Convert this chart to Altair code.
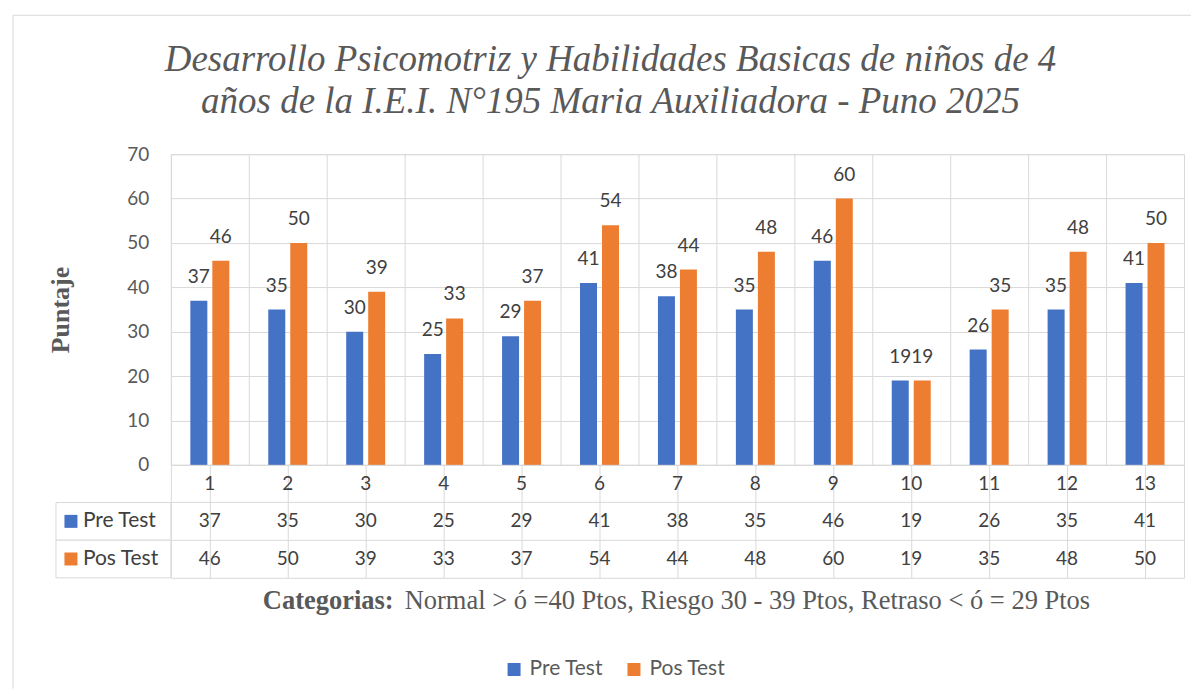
import altair as alt
import pandas as pd

# ---- data ----
cats = list(range(1, 14))
pre = [37, 35, 30, 25, 29, 41, 38, 35, 46, 19, 26, 35, 41]
pos = [46, 50, 39, 33, 37, 54, 44, 48, 60, 19, 35, 48, 50]
series = ["Pre Test", "Pos Test"]
colors = ["#4472C4", "#ED7D31"]
y_ticks = [0, 10, 20, 30, 40, 50, 60, 70]
title_lines = ["Desarrollo Psicomotriz y Habilidades Basicas de niños de 4",
               "años de la I.E.I. N°195 Maria Auxiliadora - Puno 2025"]
y_title = "Puntaje"
cat_bold = "Categorias:"
cat_rest = "Normal > ó =40 Ptos, Riesgo 30 - 39 Ptos, Retraso < ó = 29 Ptos"

df = pd.DataFrame({
    "cat": cats * 2,
    "serie": ["Pre Test"] * len(cats) + ["Pos Test"] * len(cats),
    "valor": pre + pos,
})

rows = []
for c, a, b in zip(cats, pre, pos):
    rows.append({"cat": c, "fila": "c", "txt": str(c)})
    rows.append({"cat": c, "fila": "Pre Test", "txt": str(a)})
    rows.append({"cat": c, "fila": "Pos Test", "txt": str(b)})
dt = pd.DataFrame(rows)
ldf = pd.DataFrame({"fila": series, "serie": series})
one = pd.DataFrame({"k": [0]})

GRID = "#d9d9d9"
TXT = "#404040"
GREY = "#595959"
W, H1, H2 = 1014, 311, 113


def x_enc():
    return alt.X("cat:O", scale=alt.Scale(paddingInner=0, paddingOuter=0),
                 axis=alt.Axis(labels=False, ticks=False, domain=False, grid=True,
                               bandPosition=0, gridColor=GRID, gridWidth=1, title=None))


xo = alt.XOffset("serie:N", scale=alt.Scale(domain=series, paddingInner=0.227, paddingOuter=0.886))
y_enc = alt.Y("valor:Q", scale=alt.Scale(domain=[0, 70], nice=False),
              axis=alt.Axis(values=y_ticks, grid=True, gridColor=GRID, domain=False, ticks=False,
                            labelPadding=22, labelFont="Lato", labelFontSize=19, labelColor=GREY,
                            title=y_title, titleFont="Liberation Serif", titleFontWeight="bold",
                            titleFontSize=26, titleColor=GREY, titlePadding=53))
color_enc = alt.Color("serie:N", scale=alt.Scale(domain=series, range=colors),
                      legend=alt.Legend(title=None, orient="none", legendX=333, legendY=505,
                                        direction="horizontal", symbolType="square", symbolSize=169,
                                        symbolStrokeWidth=0, symbolOpacity=1,
                                        labelFont="Lato", labelFontSize=21, labelColor=GREY,
                                        columnPadding=20, labelOffset=5))

bars = alt.Chart(df).mark_bar().encode(x=x_enc(), xOffset=xo, y=y_enc, color=color_enc)
labels = alt.Chart(df).mark_text(dy=-18, baseline="alphabetic", font="Lato", fontSize=19,
                                 color=TXT).encode(x=x_enc(), xOffset=xo, y=y_enc, text="valor:Q")
title = alt.Chart(one).mark_text(text=title_lines, font="Liberation Serif", fontStyle="italic",
                                 fontSize=37, color=GREY, align="center", baseline="alphabetic",
                                 lineHeight=42).encode(x=alt.value(440), y=alt.value(-83))
border_top = alt.Chart(one).mark_rule(color=GRID, strokeWidth=1).encode(
    x=alt.value(-158), x2=alt.value(1021), y=alt.value(-139))
border_left = alt.Chart(one).mark_rule(color=GRID, strokeWidth=1).encode(
    x=alt.value(-158), y=alt.value(-139), y2=alt.value(535))

top = alt.layer(border_top, border_left, title, bars, labels).properties(width=W, height=H1)

y_t = alt.Y("fila:N", scale=alt.Scale(domain=["c"] + series, paddingInner=0, paddingOuter=0),
            axis=alt.Axis(labels=False, ticks=False, domain=False, grid=True, bandPosition=0,
                          gridColor=GRID, title=None))

cells = alt.Chart(ldf).mark_rect(fill="white", stroke=GRID, strokeWidth=1).encode(
    x=alt.value(-115), x2=alt.value(0), y=y_t)
squares = alt.Chart(ldf).mark_square(size=169, opacity=1).encode(
    x=alt.value(-100), y=y_t,
    color=alt.Color("serie:N", scale=alt.Scale(domain=series, range=colors), legend=None))
leg_text = alt.Chart(ldf).mark_text(align="left", baseline="middle", font="Lato", fontSize=21,
                                    color=TXT).encode(x=alt.value(-88), y=y_t, text="serie:N")
table_text = alt.Chart(dt).mark_text(font="Lato", fontSize=19, color=TXT, baseline="middle").encode(
    x=x_enc(), y=y_t, text="txt:N")
cb = alt.Chart(one).mark_text(text=cat_bold, font="Liberation Serif", fontWeight="bold", fontSize=26.5,
                              color=GREY, align="left", baseline="alphabetic").encode(
    x=alt.value(92), y=alt.value(144))
cr = alt.Chart(one).mark_text(text=cat_rest, font="Liberation Serif", fontSize=26.5,
                              color=GREY, align="left", baseline="alphabetic").encode(
    x=alt.value(234), y=alt.value(144))

bottom = alt.layer(cells, squares, leg_text, table_text, cb, cr).properties(width=W, height=H2)

chart = alt.vconcat(top, bottom, spacing=0, bounds="flush").resolve_scale(
    x="independent", y="independent", color="independent"
).properties(
    padding={"left": 4, "top": 6, "right": 0, "bottom": 0}, background="white"
).configure_view(stroke=GRID, strokeWidth=1)

chart.save("out.html", embed_options={"renderer": "svg", "actions": False})
